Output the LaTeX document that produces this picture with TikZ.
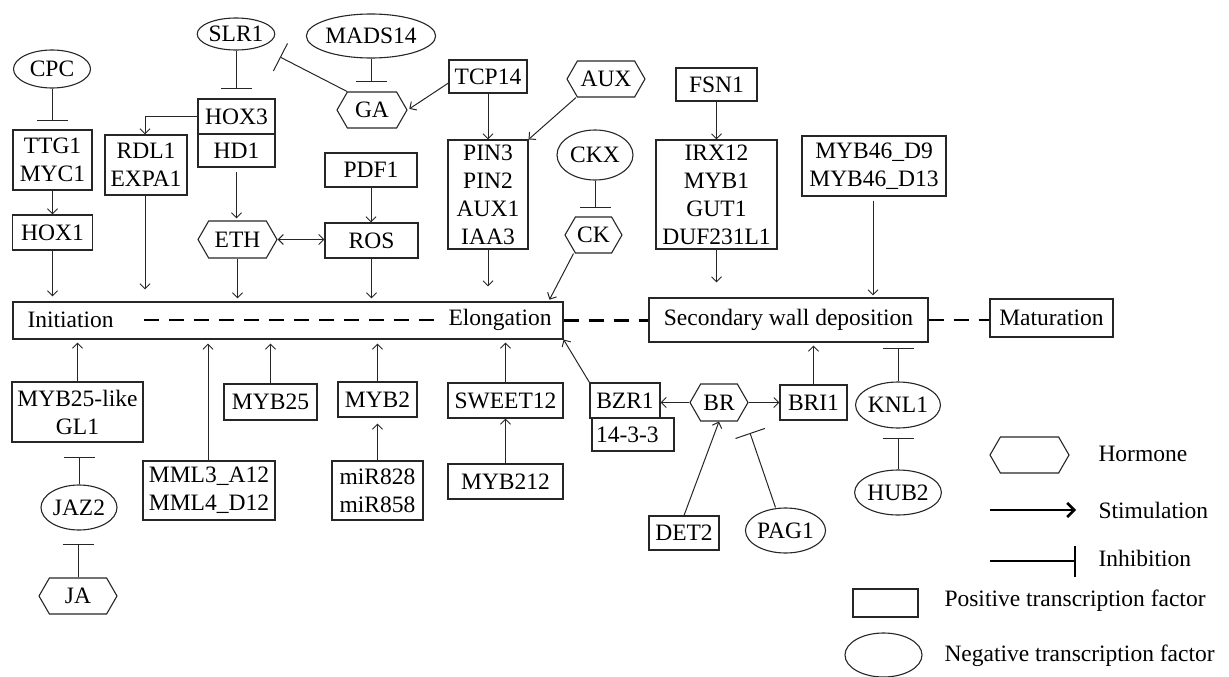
\documentclass[tikz,border=0pt]{standalone}
\usepackage{fontspec}
\setmainfont{Liberation Serif}
\usetikzlibrary{arrows.meta,shapes.geometric,shapes.symbols}
\begin{document}
\begin{tikzpicture}[x=1pt,y=-1pt,
  every node/.style={font=\fontsize{23.5}{28}\selectfont},
  line width=1pt, draw=black!85,
  box/.style={draw=black!85, line width=1.1pt, rectangle, inner sep=0pt, align=center},
  neg/.style={draw=black!85, line width=1.1pt, ellipse, inner sep=0pt},
  horm/.style={draw=black!85, line width=1.1pt, signal, signal to=east and west, signal pointer angle=120, inner sep=0pt},
  act/.style={-{Straight Barb[length=5pt,width=10pt]}},
  inh/.style={-{Bar[width=31pt]}},
  phase/.style={line width=2.6pt, draw=black, dash pattern=on 15pt off 10pt},
  lbl/.style={anchor=west, inner sep=0pt}]
\useasboundingbox (0,0) rectangle (1229,677);

% ---- top left
\node[neg, minimum width=77, minimum height=38] (cpc) at (52,69) {CPC};
\node[box, minimum width=79, minimum height=60] (ttg) at (52.5,160) {TTG1\\MYC1};
\node[box, minimum width=80, minimum height=35] (hox1) at (52.5,232.5) {HOX1};
\node[box, minimum width=82, minimum height=60] (rdl) at (146,165) {RDL1\\EXPA1};
\node[neg, minimum width=75, minimum height=32] (slr) at (236,34) {SLR1};
\node[box, minimum width=77, minimum height=35] (hox3) at (236.5,116.5) {HOX3};
\node[box, minimum width=77, minimum height=33] (hd1) at (236.5,150.5) {HD1};
\node[horm, minimum width=79, minimum height=37] (eth) at (237.5,239.5) {ETH};
\node[box, minimum width=92, minimum height=34] (pdf) at (371,170) {PDF1};
\node[box, minimum width=93, minimum height=35] (ros) at (371.5,240.5) {ROS};
\node[neg, minimum width=113, minimum height=44] (mads) at (371,36) {MADS14};
\node[horm, minimum width=70, minimum height=36] (ga) at (372,110) {GA};
\node[box, minimum width=78, minimum height=33] (tcp) at (488,76.5) {TCP14};
\node[horm, minimum width=78, minimum height=36] (aux) at (606,79) {AUX};
\node[box, minimum width=80, minimum height=109] (pin) at (488,194.5) {PIN3\\PIN2\\AUX1\\IAA3};
\node[neg, minimum width=76, minimum height=50] (ckx) at (595,155) {CKX};
\node[horm, minimum width=57, minimum height=36] (ck) at (593.5,235) {CK};
\node[box, minimum width=81, minimum height=33] (fsn) at (716.5,84.5) {FSN1};
\node[box, minimum width=121, minimum height=109] (irx) at (716.5,194.5) {IRX12\\MYB1\\GUT1\\DUF231L1};
\node[box, minimum width=144, minimum height=60] (myb46) at (874,166) {MYB46\_D9\\MYB46\_D13};

% ---- phases
\node[box, minimum width=550, minimum height=37] (ie) at (288,320.5) {};
\node[lbl] (initT) at (27,320) {Initiation};
\node[lbl] (elongT) at (448,320) {Elongation};
\node[box, minimum width=279, minimum height=44] (sw) at (788.5,320) {Secondary wall deposition};
\node[box, minimum width=123, minimum height=38] (mat) at (1051.5,318) {Maturation};
\draw[phase] ([xshift=30pt]initT.east) -- ([xshift=-8pt]elongT.west);
\draw[phase] (ie.east) -- (ie.east -| sw.west);
\draw[phase] (sw.east) -- (sw.east -| mat.west);

% ---- bottom
\node[box, minimum width=131, minimum height=60] (myb25l) at (77.5,412) {MYB25-like\\GL1};
\node[neg, minimum width=76, minimum height=45] (jaz2) at (79,507.5) {JAZ2};
\node[horm, minimum width=78, minimum height=36] (ja) at (78,596) {JA};
\node[box, minimum width=132, minimum height=59] (mml) at (209,490.5) {MML3\_A12\\MML4\_D12};
\node[box, minimum width=93, minimum height=36] (myb25) at (270.5,402) {MYB25};
\node[box, minimum width=79, minimum height=35] (myb2) at (377.5,399.5) {MYB2};
\node[box, minimum width=91, minimum height=59] (mir) at (377.5,490.5) {miR828\\miR858};
\node[box, minimum width=115, minimum height=35] (sweet) at (505.5,400.5) {SWEET12};
\node[box, minimum width=115, minimum height=35] (myb212) at (505.5,481.5) {MYB212};
\node[box, minimum width=70, minimum height=35] (bzr) at (625,400.5) {BZR1};
\node[box, minimum width=82, minimum height=33, text width=74, align=left] (b1433) at (633,434.5) {14-3-3};
\node[horm, minimum width=58, minimum height=37] (br) at (719,402.5) {BR};
\node[box, minimum width=67, minimum height=35] (bri) at (813.5,402.5) {BRI1};
\node[box, minimum width=70, minimum height=34] (det) at (684,533) {DET2};
\node[neg, minimum width=75, minimum height=45] (pag) at (785.5,530.5) {PAG1};
\node[neg, minimum width=78, minimum height=46] (knl) at (898,405) {KNL1};
\node[neg, minimum width=78, minimum height=45] (hub) at (898,492.5) {HUB2};

% ---- legend
\node[horm, minimum width=79, minimum height=36] (lhorm) at (1029.5,455) {};
\node[lbl] (thorm) at (1098,454) {Hormone};
\coordinate (s1) at (990,510);
\coordinate (s2) at (1076,510);
\draw[line width=2.5pt, draw=black, -{Straight Barb[length=7pt,width=14pt]}] (s1) -- (s2);
\node[lbl] (tstim) at (1098,510) {Stimulation};
\coordinate (i1) at (990,561);
\coordinate (i2) at (1076,561);
\draw[line width=2.5pt, draw=black, -{Bar[width=31pt]}] (i1) -- (i2);
\node[lbl] (tinh) at (1098,558) {Inhibition};
\node[box, minimum width=65, minimum height=28] (lpos) at (885.5,603) {};
\node[lbl] (tpos) at (944,601) {Positive transcription factor};
\node[neg, minimum width=77, minimum height=44] (lneg) at (883.5,655) {};
\node[lbl] (tneg) at (944,656) {Negative transcription factor};

% ---- connectors top
\draw[inh, shorten >=8pt] (cpc.south) -- (cpc.south |- ttg.north);
\draw[act] (ttg.south) -- (ttg.south |- hox1.north);
\draw[act, shorten >=5pt] (hox1.south) -- (hox1.south |- ie.north);
\draw[act] (hox3.west) -| ([xshift=-1pt]rdl.north);
\draw[act, shorten >=12pt] ([xshift=-1pt]rdl.south) -- ([xshift=-1pt]rdl.south |- ie.north);
\draw[inh, shorten >=9pt] (slr.south) -- (slr.south |- hox3.north);
\draw[act, shorten <=4pt, shorten >=2pt] (hd1.south) -- (hd1.south |- eth.north);
\draw[{Straight Barb[length=5pt,width=10pt]}-{Straight Barb[length=5pt,width=10pt]}] (eth.east) -- (eth.east -| ros.west);
\draw[act, shorten >=3pt] (eth.south) -- (eth.south |- ie.north);
\draw[act] (pdf.south) -- (pdf.south |- ros.north);
\draw[act, shorten >=3pt] (ros.south) -- (ros.south |- ie.north);
\draw[inh, shorten >=9pt] (mads.south) -- (mads.south |- ga.north);
\coordinate (gaslr) at (280,57);
\draw[inh] ([xshift=-25pt]ga.north) -- (gaslr);
\draw[act, shorten >=2pt] ([yshift=-6.5pt]tcp.west) -- (ga.east);
\draw[act] (tcp.south) -- (tcp.south |- pin.north);
\draw[act] ([xshift=-30pt]aux.south) -- (pin.north east);
\draw[act, shorten >=15pt] (pin.south) -- (pin.south |- ie.north);
\draw[inh, shorten >=8pt] (ckx.south) -- (ckx.south |- ck.north);
\draw[act, shorten >=2pt] ([xshift=-20pt]ck.south) -- ([xshift=-15pt]ie.north east);
\draw[act] (fsn.south) -- (fsn.south |- irx.north);
\draw[act, shorten >=15pt] (irx.south) -- (irx.south |- sw.north);
\draw[act, shorten <=4pt, shorten >=2pt] ([xshift=-1pt]myb46.south) -- ([xshift=-1pt]myb46.south |- sw.north);

% ---- connectors bottom
\draw[act, shorten >=3pt] (myb25l.north) -- (myb25l.north |- ie.south);
\draw[inh, shorten >=14pt] (jaz2.north) -- (jaz2.north |- myb25l.south);
\draw[inh, shorten >=13pt] (ja.north) -- (ja.north |- jaz2.south);
\draw[act, shorten >=4pt] ([xshift=-1pt]mml.north) -- ([xshift=-1pt]mml.north |- ie.south);
\draw[act, shorten >=4pt] (myb25.north) -- (myb25.north |- ie.south);
\draw[act, shorten >=4pt] (myb2.north) -- (myb2.north |- ie.south);
\draw[act, shorten >=6pt] (mir.north) -- (mir.north |- myb2.south);
\draw[act, shorten >=3pt] (sweet.north) -- (sweet.north |- ie.south);
\draw[act] (myb212.north) -- (myb212.north |- sweet.south);
\draw[act] (bzr.north west) -- (ie.south east);
\draw[act] (br.west) -- (br.west -| bzr.east);
\draw[act] (br.east) -- (br.east -| bri.west);
\draw[act, shorten >=3pt] (bri.north) -- (bri.north |- sw.south);
\draw[act] (det.north) -- (br.south);
\coordinate (pagbr) at (750,433);
\draw[inh] ([xshift=-10pt]pag.north) -- (pagbr);
\draw[inh, shorten >=5pt] (knl.north) -- (knl.north |- sw.south);
\draw[inh, shorten >=9pt] (hub.north) -- (hub.north |- knl.south);
\end{tikzpicture}
\end{document}
